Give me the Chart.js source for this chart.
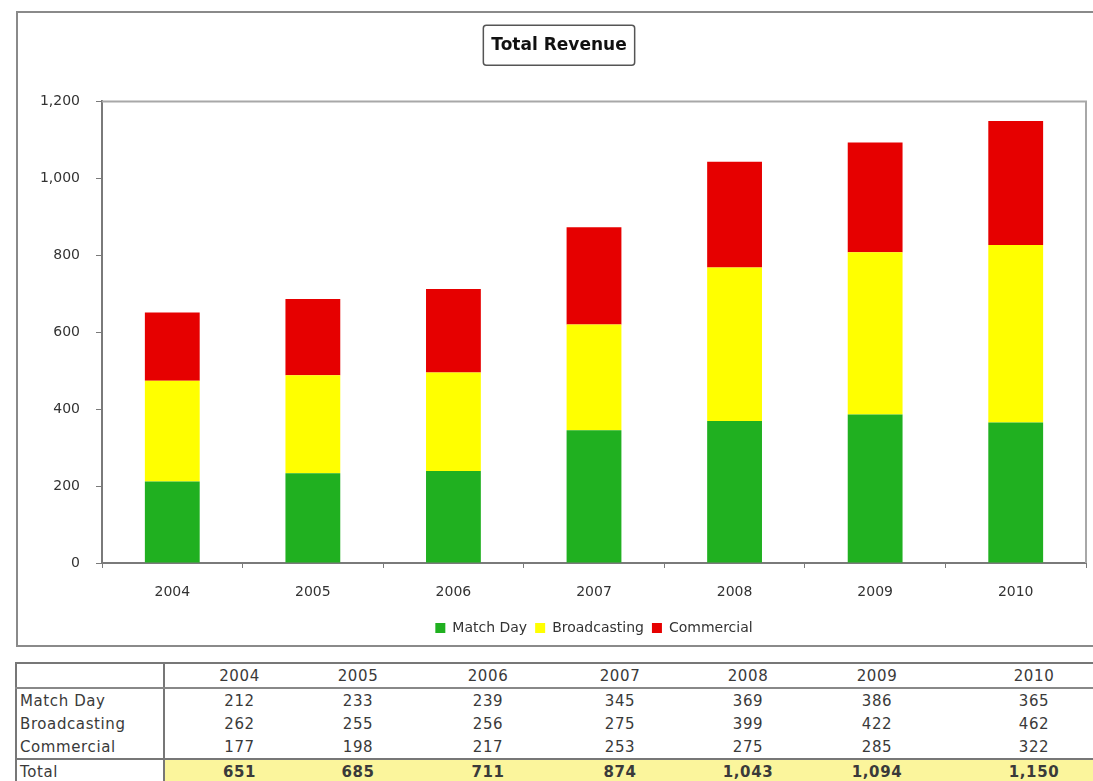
<!DOCTYPE html>
<html>
<head>
<meta charset="utf-8">
<title>Total Revenue</title>
<script src="https://cdn.jsdelivr.net/npm/chart.js@4/dist/chart.umd.min.js"></script>
<style>
    html, body { margin: 0; padding: 0; background: #fff; overflow: hidden; }
    body { width: 1093px; height: 781px; position: relative; font-family: 'DejaVu Sans', Verdana, sans-serif; }

    .chart-box {
        position: absolute; left: 16px; top: 11px; width: 1078px; height: 632px;
        border: 2px solid #8a8a8a; background: #fff;
    }
    .chart-box canvas { display: block; }

    .data-table {
        position: absolute; left: 15px; top: 662px; width: 1128px;
        border-collapse: collapse; table-layout: fixed;
        font-size: 15px; color: #3a3a3a; letter-spacing: 0.6px;
    }
    .data-table td { padding: 0; height: 23px; line-height: 22px; text-align: center; white-space: nowrap; overflow: hidden; }
    .data-table td.row-label { text-align: left; padding-left: 3px; border-left: 2px solid #777; border-right: 2px solid #777; }
    .data-table tr.head td { border-top: 2px solid #777; border-bottom: 2px solid #888; }
    .data-table tr.total td { border-top: 2px solid #777; font-weight: bold; background: #fbf59c; }
    .data-table tr.total td.row-label { background: #fff; font-weight: normal; }
</style>
</head>
<body>

<div class="chart-box">
    <canvas id="revenueChart" width="1078" height="632"></canvas>
</div>

<table class="data-table" id="revenueTable"></table>

<script>
// Ingresos por temporada (millones)
const years = ['2004', '2005', '2006', '2007', '2008', '2009', '2010'];
const matchDay = [212, 233, 239, 345, 369, 386, 365];
const broadcasting = [262, 255, 256, 275, 399, 422, 462];
const commercial = [177, 198, 217, 253, 275, 285, 322];
// Totales tal cual vienen publicados (redondeados aparte)
const totals = [651, 685, 711, 874, 1043, 1094, 1150];
const yTicks = [0, 200, 400, 600, 800, 1000, 1200];

const fontMain = '"DejaVu Sans", Verdana, sans-serif';
const axisGrey = '#7a7a7a';
const titleSize = 17;

// Caja alrededor del título, como en Excel
const titleBoxPlugin = {
    id: 'titleBox',
    afterDraw(chart) {
        const tb = chart.titleBlock;
        if (!tb || !tb.options.display) return;
        const ctx = chart.ctx;
        ctx.save();
        ctx.font = `bold ${titleSize}px ${fontMain}`;
        const w = ctx.measureText(chart.options.plugins.title.text).width + 16;
        const h = 40;
        const cx = (tb.left + tb.right) / 2;
        const cy = tb.top + tb.options.padding.top + titleSize * 0.6;
        ctx.strokeStyle = '#555';
        ctx.lineWidth = 1.5;
        ctx.beginPath();
        ctx.roundRect(cx - w / 2, cy - h / 2, w, h, 3);
        ctx.stroke();
        ctx.restore();
    }
};

// Borde gris del área de trazado (arriba y derecha)
const plotBorderPlugin = {
    id: 'plotBorder',
    beforeDatasetsDraw(chart) {
        const { ctx, chartArea: a } = chart;
        ctx.save();
        ctx.strokeStyle = '#a8a8a8';
        ctx.lineWidth = 2;
        ctx.beginPath();
        ctx.moveTo(a.left, a.top);
        ctx.lineTo(a.right, a.top);
        ctx.lineTo(a.right, a.bottom);
        ctx.stroke();
        ctx.restore();
    }
};

const ctx = document.getElementById('revenueChart').getContext('2d');
new Chart(ctx, {
    type: 'bar',
    data: {
        labels: years,
        datasets: [
            { label: 'Match Day', data: matchDay, backgroundColor: '#20b020' },
            { label: 'Broadcasting', data: broadcasting, backgroundColor: '#ffff00' },
            { label: 'Commercial', data: commercial, backgroundColor: '#e60000' }
        ]
    },
    options: {
        responsive: false,
        animation: false,
        layout: { padding: { left: 14, right: 10, top: 0, bottom: 0 } },
        datasets: { bar: { barPercentage: 0.39, categoryPercentage: 1 } },
        plugins: {
            title: {
                display: true,
                text: 'Total Revenue',
                color: '#111',
                font: { family: fontMain, size: titleSize, weight: 'bold' },
                padding: { top: 22, bottom: 46 }
            },
            legend: {
                position: 'bottom',
                fullSize: false,
                labels: {
                    color: '#333',
                    font: { family: fontMain, size: 14 },
                    boxWidth: 10, boxHeight: 10,
                    padding: 8
                }
            },
            tooltip: { enabled: false }
        },
        scales: {
            x: {
                stacked: true,
                afterFit: (scale) => { scale.height = 50; },
                border: { color: axisGrey, width: 2 },
                grid: { drawOnChartArea: false, drawTicks: true, tickLength: 5, color: axisGrey, offset: true },
                ticks: { color: '#333', font: { family: fontMain, size: 14 }, padding: 16 }
            },
            y: {
                stacked: true,
                min: 0, max: 1200,
                afterBuildTicks: (scale) => { scale.ticks = yTicks.map(v => ({ value: v })); },
                afterFit: (scale) => { scale.width = 70; },
                border: { color: axisGrey, width: 2 },
                grid: { drawOnChartArea: false, drawTicks: true, tickLength: 6, color: axisGrey },
                ticks: { color: '#333', font: { family: fontMain, size: 14 }, padding: 16 }
            }
        }
    },
    plugins: [titleBoxPlugin, plotBorderPlugin]
});

// Tabla de datos bajo el gráfico
const colWidths = [148, 150, 88, 172, 92, 164, 94, 220];
const table = document.getElementById('revenueTable');
let html = '<colgroup>' + colWidths.map(w => `<col style="width:${w}px">`).join('') + '</colgroup>';
const fmt = (v) => v.toLocaleString('en-US');
const row = (cls, label, vals) =>
    `<tr class="${cls}"><td class="row-label">${label}</td>${vals.map(v => `<td>${v}</td>`).join('')}</tr>`;
html += row('head', '', years);
html += row('', 'Match Day', matchDay.map(fmt));
html += row('', 'Broadcasting', broadcasting.map(fmt));
html += row('', 'Commercial', commercial.map(fmt));
html += row('total', 'Total', totals.map(fmt));
table.innerHTML = html;
</script>
</body>
</html>
